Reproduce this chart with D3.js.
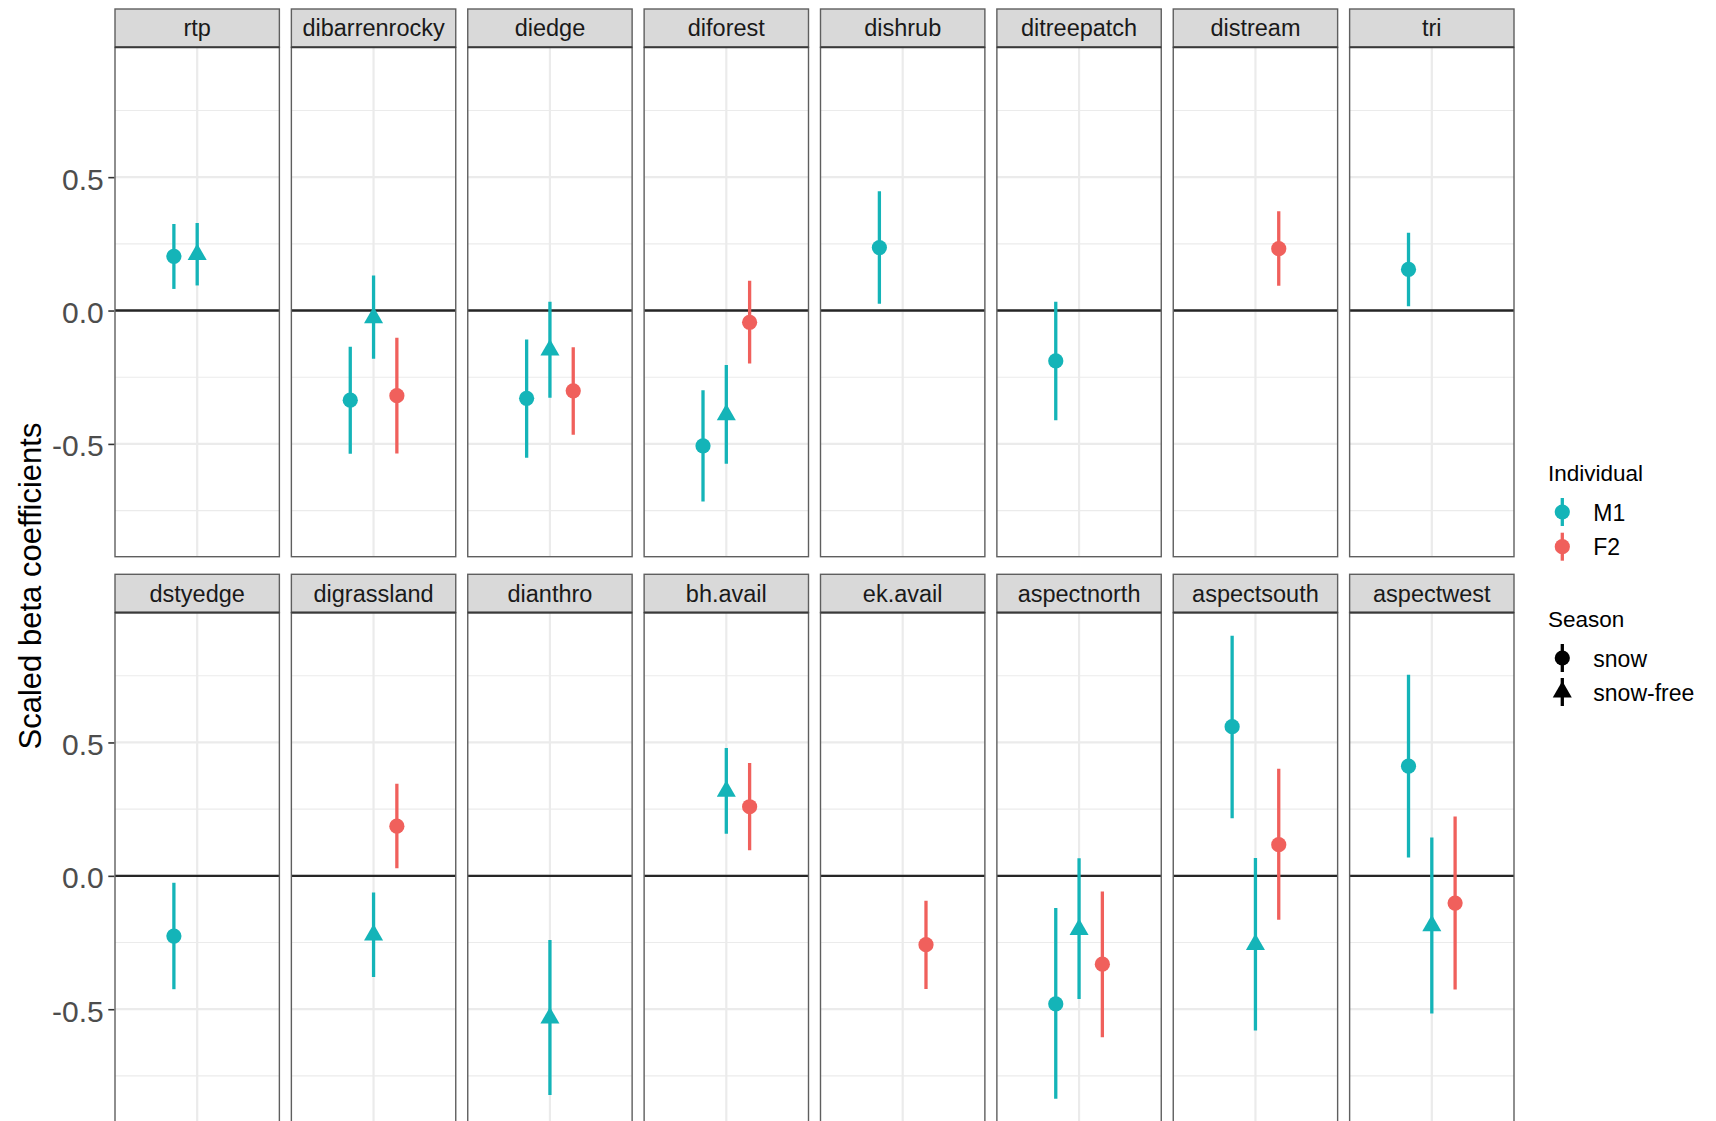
<!DOCTYPE html>
<html>
<head>
<meta charset="utf-8">
<script src="https://cdn.jsdelivr.net/npm/d3@7"></script>
<style>
  html, body { margin: 0; padding: 0; background: #ffffff; }
  svg { display: block; font-family: "Liberation Sans", Arial, Helvetica, sans-serif; }
</style>
</head>
<body>
<svg id="chart" width="1716" height="1121"></svg>
<script>
// Facet panels, in display order (8 per row)
const panels = [
  "rtp", "dibarrenrocky", "diedge", "diforest", "dishrub", "ditreepatch", "distream", "tri",
  "dstyedge", "digrassland", "dianthro", "bh.avail", "ek.avail", "aspectnorth", "aspectsouth", "aspectwest"
];

// One entry per coefficient estimate
const variable = [
  "rtp", "rtp",
  "dibarrenrocky", "dibarrenrocky", "dibarrenrocky",
  "diedge", "diedge", "diedge",
  "diforest", "diforest", "diforest",
  "dishrub", "ditreepatch", "distream", "tri",
  "dstyedge",
  "digrassland", "digrassland",
  "dianthro",
  "bh.avail", "bh.avail",
  "ek.avail",
  "aspectnorth", "aspectnorth", "aspectnorth",
  "aspectsouth", "aspectsouth", "aspectsouth",
  "aspectwest", "aspectwest", "aspectwest"
];
const individual = [
  "M1", "M1",
  "M1", "M1", "F2",
  "M1", "M1", "F2",
  "M1", "M1", "F2",
  "M1", "M1", "F2", "M1",
  "M1",
  "M1", "F2",
  "M1",
  "M1", "F2",
  "F2",
  "M1", "M1", "F2",
  "M1", "M1", "F2",
  "M1", "M1", "F2"
];
const season = [
  "snow", "snow-free",
  "snow", "snow-free", "snow",
  "snow", "snow-free", "snow",
  "snow", "snow-free", "snow",
  "snow", "snow", "snow", "snow",
  "snow",
  "snow-free", "snow",
  "snow-free",
  "snow-free", "snow",
  "snow",
  "snow", "snow-free", "snow",
  "snow", "snow-free", "snow",
  "snow", "snow-free", "snow"
];
const estimate = [
  0.203, 0.210,
  -0.336, -0.027, -0.319,
  -0.329, -0.148, -0.301,
  -0.507, -0.391, -0.044,
  0.236, -0.189, 0.232, 0.154,
  -0.226,
  -0.222, 0.186,
  -0.533,
  0.317, 0.259,
  -0.258,
  -0.480, -0.201, -0.331,
  0.559, -0.257, 0.117,
  0.411, -0.187, -0.102
];
const lower = [
  0.081, 0.094,
  -0.537, -0.181, -0.536,
  -0.552, -0.327, -0.466,
  -0.716, -0.574, -0.199,
  0.025, -0.411, 0.093, 0.016,
  -0.425,
  -0.379, 0.028,
  -0.822,
  0.158, 0.096,
  -0.424,
  -0.836, -0.462, -0.605,
  0.216, -0.580, -0.165,
  0.069, -0.516, -0.426
];
const upper = [
  0.324, 0.328,
  -0.136, 0.131, -0.102,
  -0.109, 0.033, -0.138,
  -0.299, -0.204, 0.112,
  0.447, 0.033, 0.372, 0.292,
  -0.026,
  -0.062, 0.345,
  -0.241,
  0.479, 0.423,
  -0.093,
  -0.121, 0.066, -0.059,
  0.900, 0.067, 0.401,
  0.754, 0.144, 0.222
];

const individualLevels = ["M1", "F2"];
const seasonLevels = ["snow", "snow-free"];
const dodgeGroups = ["M1|snow", "M1|snow-free", "F2|snow"];
const yTicks = [-0.5, 0, 0.5];
const yMinorTicks = [-0.75, -0.25, 0.25, 0.75];

const rows = panels.map((p, i) => ({
  variable: p
}));
const data = variable.map((v, i) => ({
  variable: v, individual: individual[i], season: season[i],
  est: estimate[i], lo: lower[i], hi: upper[i]
}));

// ---- layout ----
const svg = d3.select("#chart");
svg.append("rect").attr("width", 1716).attr("height", 1121).attr("fill", "#ffffff");

const nCol = 8;
const panelLeft = 115, panelRight = 1514, gapX = 12;
const panelW = (panelRight - panelLeft - gapX * (nCol - 1)) / nCol;
const stripH = 38.3;
const panelH = 509.4;
const rowTops = [9, 574.3];   // top of each strip row

const borderCol = "#5f5f5f";
const gridCol = "#ebebeb";

const colour = d3.scaleOrdinal().domain(individualLevels).range(["#14b4b8", "#f0605c"]);
const symbolType = d3.scaleOrdinal().domain(seasonLevels).range(["circle", "triangle"]);

// y range with 5% expansion, as in the plotting defaults
const yLo = d3.min(lower), yHi = d3.max(upper);
const pad = (yHi - yLo) * 0.05;
const yDomain = [yLo - pad, yHi + pad];

const xPanel = d3.scaleBand().domain(d3.range(nCol)).range([panelLeft, panelRight + gapX]).paddingInner(0).paddingOuter(0);
const dodge = d3.scalePoint().domain(dodgeGroups).range([-23.3, 23.3]);

function triPath(cx, cy, r) {
  // upward triangle centred on its circumcentre
  const hw = r * Math.sqrt(3) / 2 * 1.0;
  return `M${cx},${cy - r}L${cx + hw},${cy + r / 2}L${cx - hw},${cy + r / 2}Z`;
}

function drawPoint(g, type, cx, cy, fill) {
  if (type === "circle") {
    g.append("circle").attr("cx", cx).attr("cy", cy).attr("r", 7.6).attr("fill", fill);
  } else {
    g.append("path").attr("d", triPath(cx, cy, 11)).attr("fill", fill);
  }
}

panels.forEach((name, idx) => {
  const r = Math.floor(idx / nCol), c = idx % nCol;
  const x0 = xPanel(c);
  const stripTop = rowTops[r];
  const top = stripTop + stripH;
  const y = d3.scaleLinear().domain(yDomain).range([top + panelH, top]);
  const cx = x0 + panelW / 2;

  const clipId = "clip" + idx;
  svg.append("clipPath").attr("id", clipId)
    .append("rect").attr("x", x0).attr("y", top).attr("width", panelW).attr("height", panelH);

  const g = svg.append("g").attr("clip-path", `url(#${clipId})`);
  g.append("rect").attr("x", x0).attr("y", top).attr("width", panelW).attr("height", panelH).attr("fill", "#ffffff");

  // grid
  g.selectAll(".minor").data(yMinorTicks).join("line")
    .attr("x1", x0).attr("x2", x0 + panelW)
    .attr("y1", d => y(d)).attr("y2", d => y(d))
    .attr("stroke", gridCol).attr("stroke-width", 1.1);
  g.selectAll(".major").data(yTicks).join("line")
    .attr("x1", x0).attr("x2", x0 + panelW)
    .attr("y1", d => y(d)).attr("y2", d => y(d))
    .attr("stroke", gridCol).attr("stroke-width", 2.2);
  g.append("line").attr("x1", cx).attr("x2", cx).attr("y1", top).attr("y2", top + panelH)
    .attr("stroke", gridCol).attr("stroke-width", 2.2);

  // reference line at zero
  g.append("line").attr("x1", x0).attr("x2", x0 + panelW)
    .attr("y1", y(0)).attr("y2", y(0))
    .attr("stroke", "#262626").attr("stroke-width", 2.4);

  // point ranges
  data.filter(d => d.variable === name).forEach(d => {
    const px = cx + dodge(d.individual + "|" + d.season);
    const col = colour(d.individual);
    g.append("line").attr("x1", px).attr("x2", px)
      .attr("y1", y(d.lo)).attr("y2", y(d.hi))
      .attr("stroke", col).attr("stroke-width", 3.3);
    drawPoint(g, symbolType(d.season), px, y(d.est), col);
  });

  // panel border
  svg.append("rect").attr("x", x0).attr("y", top).attr("width", panelW).attr("height", panelH)
    .attr("fill", "none").attr("stroke", borderCol).attr("stroke-width", 1.4);

  // strip
  svg.append("rect").attr("x", x0).attr("y", stripTop).attr("width", panelW).attr("height", stripH)
    .attr("fill", "#d9d9d9").attr("stroke", borderCol).attr("stroke-width", 1.4);
  svg.append("line").attr("x1", x0).attr("x2", x0 + panelW).attr("y1", top).attr("y2", top)
    .attr("stroke", "#3a3a3a").attr("stroke-width", 2);
  svg.append("text").attr("x", cx).attr("y", stripTop + 27.2)
    .attr("text-anchor", "middle").attr("font-size", 23.5).attr("fill", "#1a1a1a")
    .text(name);

  // y axis on first column
  if (c === 0) {
    const axis = d3.axisLeft(y).tickValues(yTicks).tickSize(6).tickPadding(4.5)
      .tickFormat(d => d.toFixed(1));
    const ag = svg.append("g").attr("transform", `translate(${x0 - 0.7},0)`).call(axis);
    ag.select(".domain").remove();
    ag.selectAll(".tick line").attr("stroke", "#333333").attr("stroke-width", 1.6);
    ag.selectAll(".tick text").attr("font-size", 30).attr("fill", "#4d4d4d")
      .attr("font-family", "\"Liberation Sans\", Arial, sans-serif").attr("dy", "0.4em");
  }
});

// y axis title
svg.append("text")
  .attr("transform", "translate(40.5,586) rotate(-90)")
  .attr("text-anchor", "middle").attr("font-size", 31).attr("fill", "#000000")
  .text("Scaled beta coefficients");

// ---- legends ----
const legX = 1548, keyX = 1562.3, labX = 1593.3;
const leg = svg.append("g");

leg.append("text").attr("x", legX).attr("y", 480.5).attr("font-size", 22.5).attr("fill", "#000")
  .text("Individual");
individualLevels.forEach((lv, i) => {
  const ky = 512 + i * 34.7;
  leg.append("line").attr("x1", keyX).attr("x2", keyX).attr("y1", ky - 14).attr("y2", ky + 14)
    .attr("stroke", colour(lv)).attr("stroke-width", 3.3);
  drawPoint(leg, "circle", keyX, ky, colour(lv));
  leg.append("text").attr("x", labX).attr("y", ky + 8.5).attr("font-size", 23).attr("fill", "#000").text(lv);
});

leg.append("text").attr("x", legX).attr("y", 626.5).attr("font-size", 22.5).attr("fill", "#000")
  .text("Season");
seasonLevels.forEach((lv, i) => {
  const ky = 658 + i * 34;
  leg.append("line").attr("x1", keyX).attr("x2", keyX).attr("y1", ky - 14).attr("y2", ky + 14)
    .attr("stroke", "#000").attr("stroke-width", 3.3);
  drawPoint(leg, symbolType(lv), keyX, ky, "#000");
  leg.append("text").attr("x", labX).attr("y", ky + 8.5).attr("font-size", 23).attr("fill", "#000").text(lv);
});
</script>
</body>
</html>
